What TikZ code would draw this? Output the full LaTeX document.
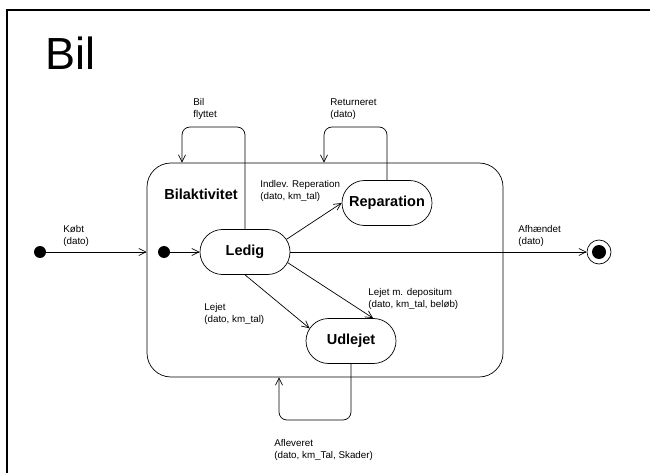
\documentclass[tikz,border=0pt]{standalone}
\usepackage{fontspec}
\setmainfont{Liberation Sans}
\usetikzlibrary{shapes.misc,arrows.meta}
\begin{document}
\begin{tikzpicture}[x=1pt,y=-1pt,
  line width=0.7pt,
  statebox/.style={draw,rounded rectangle,minimum width=90pt,minimum height=45pt,inner sep=0pt,font=\fontsize{14.5}{16}\selectfont\bfseries},
  lbl/.style={anchor=base west,align=left,inner sep=0pt,font=\fontsize{9.8}{12}\selectfont},
  arr/.style={-{Straight Barb[length=7pt,width=7pt,line width=0.7pt]}},
  dot/.style={circle,fill=black,inner sep=0pt,minimum size=12pt}]
\useasboundingbox (0,0) rectangle (650,473);
% frame
\draw[line width=1.5pt] (7,473) -- (7,10) -- (651,10);
\node[anchor=base west,inner sep=0pt,font=\fontsize{45}{50}\selectfont] (title) at (45,70) {Bil};
% composite state
\node[draw,rounded corners=24pt,minimum width=356pt,minimum height=214pt,inner sep=0pt] (comp) at (325,270) {};
\node[anchor=base west,inner sep=0pt,font=\fontsize{14.5}{16}\selectfont\bfseries] (complbl) at (164,200) {Bilaktivitet};
% states
\node[statebox] (ledig) at (245,252) {Ledig};
\node[statebox] (rep) at (387,203) {Reparation};
\node[statebox] (udl) at (351,341) {Udlejet};
% pseudo states
\node[dot] (init) at (40,252) {};
\node[dot] (init2) at (164,252) {};
\node[circle,draw,minimum size=24pt,inner sep=0pt] (final) at (599,252) {};
\node[circle,fill=black,minimum size=14pt,inner sep=0pt] (finalin) at (final) {};
% loop corners
\coordinate (c1) at (182,127);
\coordinate (c2) at (324,127);
\coordinate (c3) at (279,420);
% transitions
\draw[arr] (init) -- (init -| comp.west);
\draw[arr] (init2) -- (ledig.west);
\draw[arr] (ledig.east) -- (final.west);
\draw[arr] (ledig.17) -- (rep.west);
\draw[arr] (ledig.south) -- (udl.163);
\draw[arr] (ledig.-14) -- (udl.46);
\draw[arr,rounded corners=8pt] (ledig.north) -- (ledig.north |- c1) -- (c1) -- (c1 |- comp.north);
\draw[arr,rounded corners=8pt] (rep.north) -- (rep.north |- c2) -- (c2) -- (c2 |- comp.north);
\draw[arr,rounded corners=8pt] (udl.south) -- (udl.south |- c3) -- (c3) -- (c3 |- comp.south);
% labels (base anchor = last line)
\node[lbl] (l1) at (63,244) {Købt\\(dato)};
\node[lbl] (l2) at (518,244) {Afhændet\\(dato)};
\node[lbl] (l3) at (193,118) {Bil\\flyttet};
\node[lbl] (l4) at (330,118) {Returneret\\(dato)};
\node[lbl] (l5) at (260,200) {Indlev. Reperation\\(dato, km\_tal)};
\node[lbl] (l6) at (204,322) {Lejet\\(dato, km\_tal)};
\node[lbl] (l7) at (368,307) {Lejet m. depositum\\(dato, km\_tal, beløb)};
\node[lbl] (l8) at (274,458) {Afleveret\\(dato, km\_Tal, Skader)};
\end{tikzpicture}
\end{document}
